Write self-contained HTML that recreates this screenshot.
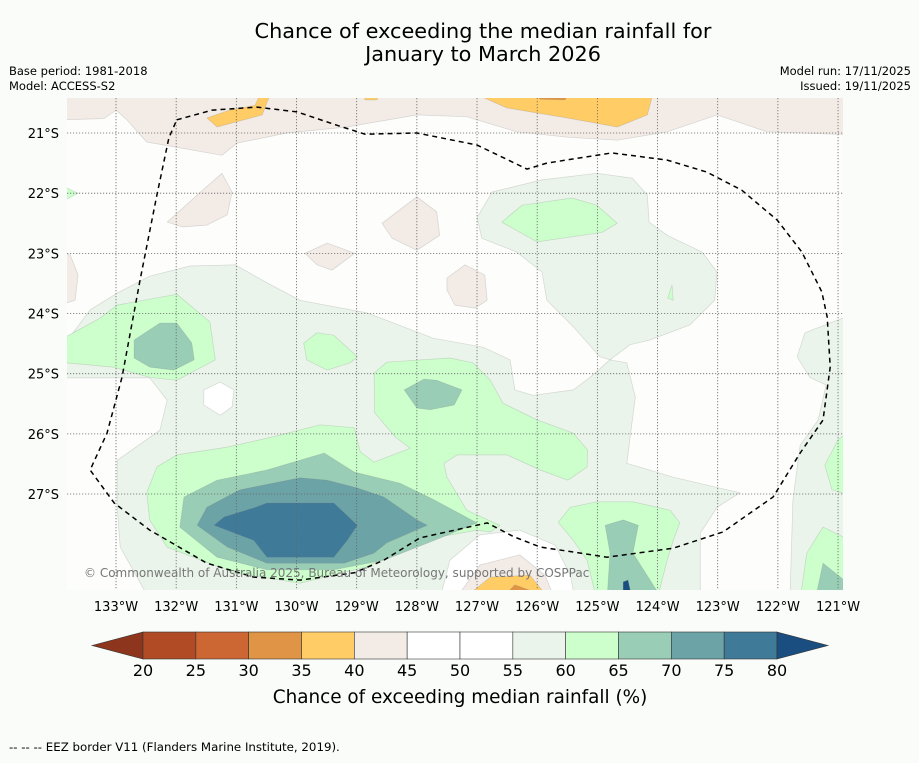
<!DOCTYPE html>
<html><head><meta charset="utf-8">
<style>
html,body{margin:0;padding:0;background:#fafcf9;}
body{width:919px;height:758px;overflow:hidden;font-family:"Liberation Sans","DejaVu Sans",sans-serif;}
svg text{font-family:"DejaVu Sans","Liberation Sans",sans-serif;}
</style></head>
<body>
<svg id="chart" width="919" height="758" xmlns="http://www.w3.org/2000/svg">
<text x="483" y="38" font-size="20.8" text-anchor="middle" fill="#000">Chance of exceeding the median rainfall for</text>
<text x="483" y="61" font-size="20.8" text-anchor="middle" fill="#000">January to March 2026</text>
<text x="9" y="75" font-size="11.5">Base period: 1981-2018</text>
<text x="9" y="90" font-size="11.5">Model: ACCESS-S2</text>
<text x="911" y="75" font-size="11.5" text-anchor="end">Model run: 17/11/2025</text>
<text x="911" y="90" font-size="11.5" text-anchor="end">Issued: 19/11/2025</text>
<defs><clipPath id="mapclip"><rect x="67" y="98" width="776" height="492"/></clipPath></defs>
<rect x="67" y="98" width="776" height="492" fill="#fdfdfb"/>
<g id="contours" clip-path="url(#mapclip)"></g>
<g id="grid"></g>
<g id="eez" clip-path="url(#mapclip)"></g>
<text x="84" y="577" font-size="12" fill="#777">© Commonwealth of Australia 2025, Bureau of Meteorology, supported by COSPPac</text>
<g id="axes"></g>
<g id="colorbar"></g>
<text x="460" y="703" font-size="18.4" text-anchor="middle">Chance of exceeding median rainfall (%)</text>
<text x="9" y="751" font-size="11.8">--  --  -- EEZ border V11 (Flanders Marine Institute, 2019).</text>
</svg>
<script>
// ---- data ----
const levelBounds = [20,25,30,35,40,45,50,55,60,65,70,75,80];
const levelColors = ["#8e351d","#b04b26","#cc6633","#e09445","#ffcc66","#f2ebe6","#ffffff","#ffffff","#eaf4ea","#ccffcc","#99cdb6","#6ca3a7","#3f7a98","#1a4d80"];
const lonTicks = [133,132,131,130,129,128,127,126,125,124,123,122,121];
const latTicks = [21,22,23,24,25,26,27];
// polygons: [lon °W, lat °S]
const lgMain = [[133.93,24.61],[133.43,23.94],[132.98,23.66],[132.44,23.38],[131.77,23.21],[131.02,23.19],[130.49,23.49],[129.94,23.78],[128.83,23.99],[127.73,24.41],[126.90,24.56],[126.45,24.77],[126.37,25.27],[126.07,25.36],[125.40,25.27],[125.12,25.06],[124.79,24.77],[124.51,24.82],[124.37,25.39],[124.51,26.49],[123.74,26.72],[122.63,26.98],[123.01,27.22],[123.29,27.65],[123.29,28.76],[132.44,28.76],[132.93,27.88],[132.98,27.22],[132.98,26.44],[132.27,25.94],[132.15,25.44],[132.44,25.07],[133.93,25.07]];
const lgUpper = [[126.75,21.98],[125.92,21.78],[125.01,21.67],[124.42,21.75],[124.17,22.03],[124.14,22.48],[123.84,22.70],[123.26,22.98],[123.01,23.31],[123.05,23.78],[123.46,24.19],[124.13,24.44],[124.46,24.52],[124.79,24.77],[124.96,24.72],[125.40,24.22],[125.84,23.78],[125.92,23.31],[126.34,22.98],[126.92,22.75],[127.00,22.41]];
const lgRight = [[120.80,24.03],[121.55,24.32],[121.68,24.72],[121.47,25.06],[121.20,25.19],[121.33,25.77],[121.63,26.19],[121.75,27.10],[121.80,28.76],[120.80,28.76]];
const beigeTop = [[133.93,20.29],[120.80,20.29],[120.80,21.03],[122.18,20.98],[123.01,20.70],[123.84,20.98],[124.67,21.12],[125.50,21.07],[126.34,20.98],[127.17,20.73],[128.00,20.70],[129.16,20.90],[130.16,21.00],[130.99,21.17],[131.24,21.37],[132.49,21.15],[132.82,20.78],[133.00,20.62],[133.20,20.76],[133.93,20.78]];
const yellowTopLeft = [[131.49,20.75],[131.32,20.90],[130.57,20.70],[130.41,20.29],[130.57,20.29],[130.69,20.54],[131.11,20.62]];
const yellowTopMid = [[127.17,20.29],[126.50,20.585],[125.50,20.75],[124.67,20.90],[124.17,20.70],[124.06,20.29]];
const orangeTop = [[126.09,20.29],[125.95,20.44],[125.54,20.45],[125.42,20.29]];
const yellowTopSmall = [[128.91,20.29],[128.86,20.45],[128.66,20.45],[128.61,20.29]];
const beige1 = [[132.15,22.48],[131.65,22.03],[131.24,21.67],[131.07,21.98],[131.15,22.36],[131.49,22.53],[131.90,22.56]];
const beige2 = [[128.58,22.50],[128.00,22.06],[127.67,22.31],[127.62,22.70],[128.00,22.95],[128.41,22.75]];
const beige3 = [[129.86,23.00],[129.49,22.83],[129.03,23.00],[129.41,23.28],[129.66,23.19]];
const beige4 = [[127.50,23.41],[127.20,23.19],[126.87,23.36],[126.83,23.78],[127.03,23.91],[127.37,23.86],[127.50,23.61]];
const beige5 = [[133.93,22.95],[133.76,23.03],[133.63,23.36],[133.68,23.78],[133.93,23.86]];
const white1 = [[131.54,25.27],[131.27,25.14],[131.04,25.27],[131.07,25.55],[131.27,25.69],[131.54,25.52]];
const whiteBottom = [[127.62,28.76],[127.45,28.10],[126.95,27.68],[126.29,27.60],[125.70,27.85],[125.45,28.35],[125.37,28.76]];
const beigeBottom = [[127.37,28.76],[126.95,28.18],[126.29,28.01],[125.87,28.35],[125.70,28.76]];
const yellowBottom = [[127.25,28.76],[126.78,28.38],[126.12,28.35],[125.79,28.76]];
const orangeBottom = [[126.62,28.76],[126.37,28.51],[126.04,28.63],[125.95,28.76]];
const green1 = [[133.93,24.44],[133.27,24.08],[132.98,23.86],[131.99,23.68],[131.44,24.14],[131.35,24.77],[131.99,25.11],[132.44,25.06],[133.05,24.89],[133.93,24.81]];
const teal1 = [[132.70,24.44],[132.27,24.16],[131.99,24.16],[131.74,24.49],[131.70,24.77],[132.04,24.94],[132.44,24.89],[132.70,24.74]];
const green2 = [[129.88,24.49],[129.66,24.32],[129.38,24.36],[128.99,24.72],[129.11,24.82],[129.49,24.94],[129.83,24.77]];
const green3 = [[128.71,24.99],[128.50,24.81],[127.45,24.74],[127.07,24.82],[126.78,25.11],[126.57,25.49],[126.00,25.77],[125.40,25.99],[125.16,26.27],[125.17,26.55],[125.49,26.77],[125.95,26.60],[126.50,26.35],[127.33,26.35],[127.55,26.49],[127.50,26.72],[127.17,27.27],[126.62,27.52],[126.78,27.63],[127.00,27.60],[127.95,27.77],[128.83,28.21],[129.94,28.48],[131.04,28.31],[132.15,27.88],[132.44,27.43],[132.49,26.98],[132.32,26.55],[131.99,26.35],[131.15,26.22],[130.39,26.05],[129.61,25.85],[129.04,25.90],[128.94,26.30],[128.71,26.47],[128.11,26.24],[128.36,26.05],[128.70,25.65]];
const teal2 = [[128.21,25.27],[127.88,25.09],[127.67,25.11],[127.25,25.27],[127.38,25.52],[127.78,25.60],[128.00,25.57]];
const tealBottom1 = [[131.94,27.55],[131.87,27.05],[131.32,26.77],[130.49,26.60],[129.54,26.32],[129.04,26.635],[128.28,26.82],[127.71,27.10],[127.00,27.48],[127.71,27.77],[128.55,28.10],[129.38,28.26],[130.49,28.26],[131.32,28.05]];
const tealBottom2 = [[131.65,27.52],[131.49,27.22],[130.94,26.93],[129.94,26.73],[129.49,26.77],[128.99,26.90],[128.55,27.05],[128.00,27.43],[127.83,27.52],[128.50,27.81],[128.71,27.98],[129.21,28.15],[130.49,28.15],[131.15,27.88]];
const tealBottom3 = [[131.37,27.52],[131.20,27.38],[130.71,27.23],[130.49,27.15],[129.38,27.15],[128.99,27.52],[129.16,27.77],[129.38,28.05],[130.49,28.05],[130.71,27.77]];
const green4 = [[126.59,22.48],[126.25,22.20],[125.42,22.08],[125.01,22.20],[124.67,22.50],[124.92,22.65],[126.00,22.81]];
const green5 = [[125.65,27.47],[125.45,27.22],[125.01,27.13],[124.41,27.13],[123.79,27.27],[123.63,27.48],[123.74,27.77],[123.84,28.10],[124.01,28.76],[125.01,28.76],[125.17,28.10],[125.40,27.77]];
const teal3 = [[124.87,27.52],[124.57,27.43],[124.32,27.52],[124.41,27.98],[124.01,28.61],[123.96,28.76],[124.84,28.76],[124.79,27.98]];
const dark1 = [[124.57,28.46],[124.49,28.43],[124.42,28.76],[124.57,28.76]];
const green6 = [[120.80,25.94],[121.00,26.10],[121.22,26.52],[121.10,26.93],[120.80,27.02]];
const green7 = [[121.63,28.76],[121.52,27.98],[121.25,27.55],[120.80,27.77],[120.80,28.76]];
const teal4 = [[121.38,28.76],[121.25,28.15],[120.80,28.51],[120.80,28.76]];
const green8 = [[133.93,21.86],[133.63,22.00],[133.93,22.16]];
const green9 = [[123.83,23.74],[123.76,23.53],[123.74,23.78]];
const eezLine = [[131.99,20.78],[131.40,20.62],[130.66,20.57],[129.99,20.65],[129.33,20.87],[128.86,21.02],[128.00,21.00],[127.00,21.20],[126.17,21.60],[125.84,21.50],[124.76,21.33],[123.84,21.45],[123.18,21.65],[122.60,21.95],[122.01,22.45],[121.60,22.98],[121.27,23.64],[121.18,24.06],[121.13,24.89],[121.25,25.77],[121.63,26.32],[122.08,27.05],[122.91,27.63],[123.74,27.90],[124.84,28.05],[125.95,27.88],[126.39,27.71],[126.83,27.48],[127.95,27.73],[128.55,28.10],[129.04,28.31],[129.94,28.43],[130.71,28.38],[131.49,28.15],[132.44,27.60],[133.03,27.15],[133.43,26.60],[133.15,25.99],[132.90,25.06],[132.60,23.44],[132.32,22.03],[132.12,21.08],[131.99,20.78]];
// [name, colour-band index, polygon]
const shapes = [
 ["light-green-main",8,lgMain],["light-green-upper",8,lgUpper],["light-green-right",8,lgRight],
 ["beige-top",5,beigeTop],["yellow-top-left",4,yellowTopLeft],["yellow-top-mid",4,yellowTopMid],["orange-top",3,orangeTop],["yellow-top-small",4,yellowTopSmall],
 ["beige-blob-1",5,beige1],["beige-blob-2",5,beige2],["beige-blob-3",5,beige3],["beige-blob-4",5,beige4],["beige-blob-5",5,beige5],
 ["white-blob",6,white1],["white-bottom",6,whiteBottom],["beige-bottom",5,beigeBottom],["yellow-bottom",4,yellowBottom],["orange-bottom",3,orangeBottom],
 ["green-west",9,green1],["green-small",9,green2],["green-south",9,green3],["green-north",9,green4],["green-southeast",9,green5],["green-east",9,green6],["green-east-bottom",9,green7],["green-edge",9,green8],["green-sliver",9,green9],
 ["teal-west",10,teal1],["teal-centre",10,teal2],["teal-south",10,tealBottom1],["teal-southeast",10,teal3],["teal-east",10,teal4],
 ["teal-south-mid",11,tealBottom2],["blue-south-core",12,tealBottom3],["blue-southeast-core",13,dark1]
];
// ---- axes ----
const NS="http://www.w3.org/2000/svg";
const X0=116, Y0=133, PX=60.17;
function xScale(lonW){return X0+(133-lonW)*PX;}
function yScale(latS){return Y0+(latS-21)*PX;}
function mk(tag,attrs,parent){const e=document.createElementNS(NS,tag);for(const k in attrs)e.setAttribute(k,attrs[k]);parent.appendChild(e);return e;}
const gC=document.getElementById('contours');
shapes.forEach(s=>{
  const d=s[2].map((p,i)=>(i?'L':'M')+xScale(p[0]).toFixed(1)+' '+yScale(p[1]).toFixed(1)).join(' ')+'Z';
  const el=mk('path',{d:d,fill:levelColors[s[1]],stroke:'rgba(120,120,120,0.25)','stroke-width':0.7,'stroke-linejoin':'round'},gC);
  
  
});
const gG=document.getElementById('grid'), gA=document.getElementById('axes');
lonTicks.forEach(l=>{
  const x=xScale(l);
  const ln=mk('line',{x1:x,x2:x,y1:98,y2:590,stroke:'#666','stroke-width':0.8,'stroke-dasharray':'1.2,1.8'},gG);
  
  
  const t=mk('text',{x:x,y:611,'font-size':13,'text-anchor':'middle'},gA);
  t.textContent=l+'°W';
  
  
});
latTicks.forEach(l=>{
  const y=yScale(l);
  const ln=mk('line',{x1:67,x2:843,y1:y,y2:y,stroke:'#666','stroke-width':0.8,'stroke-dasharray':'1.2,1.8'},gG);
  
  
  const t=mk('text',{x:59,y:y+5,'font-size':13,'text-anchor':'end'},gA);
  t.textContent=l+'°S';
  
  
});
const gE=document.getElementById('eez');
const eezD=eezLine.map((p,i)=>(i?'L':'M')+xScale(p[0]).toFixed(1)+' '+yScale(p[1]).toFixed(1)).join(' ');
const eez=mk('path',{d:eezD,fill:'none',stroke:'#000','stroke-width':1.5,'stroke-dasharray':'5,4'},gE);


// ---- colorbar ----
const gB=document.getElementById('colorbar');
const cbX0=143, cbX1=777, cbY=632, cbH=27;
const step=(cbX1-cbX0)/(levelBounds.length-1);
function cbScale(v){return cbX0+(v-levelBounds[0])/5*step;}
const lt=mk('polygon',{points:`92,${cbY+cbH/2} ${cbX0},${cbY} ${cbX0},${cbY+cbH}`,fill:levelColors[0],stroke:'#333','stroke-width':0.6},gB);


for(let i=0;i<levelBounds.length-1;i++){
  const x=cbScale(levelBounds[i]);
  const r=mk('rect',{x:x,y:cbY,width:step,height:cbH,fill:levelColors[i+1],stroke:'#333','stroke-width':0.6},gB);
  
  
}
const rt=mk('polygon',{points:`${cbX1},${cbY} 828,${cbY+cbH/2} ${cbX1},${cbY+cbH}`,fill:levelColors[13],stroke:'#333','stroke-width':0.6},gB);


levelBounds.forEach(v=>{
  const t=mk('text',{x:cbScale(v),y:676,'font-size':16,'text-anchor':'middle'},gB);
  t.textContent=v;
  
  
});
</script>
</body></html>
